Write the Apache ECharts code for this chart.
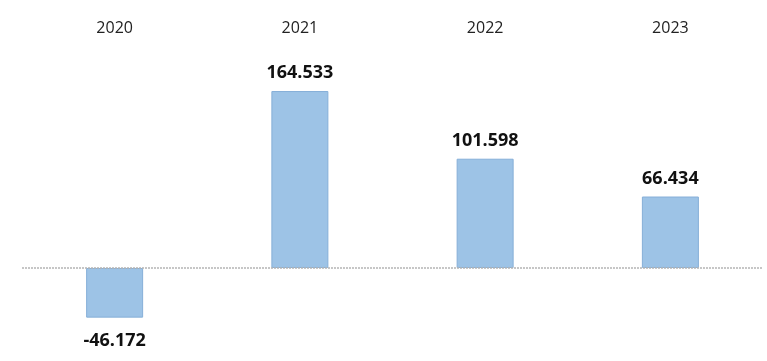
<!DOCTYPE html>
<html><head><meta charset="utf-8">
<script src="https://cdn.jsdelivr.net/npm/echarts@6/dist/echarts.min.js"></script>
<style>html,body{margin:0;padding:0;background:#fff}#c{width:767px;height:361px}</style>
</head><body><div id="c"></div>
<script>
const categories = ['2020', '2021', '2022', '2023'];
const values = [-46.172, 164.533, 101.598, 66.434];

const chart = echarts.init(document.getElementById('c'), null, {renderer: 'canvas'});
chart.setOption({
  animation: false,
  grid: {left: 22, right: 4, top: 74.4, bottom: 28.5, containLabel: false},
  xAxis: {
    type: 'category', data: categories, position: 'top',
    axisLine: {show: false, onZero: false}, axisTick: {show: false},
    axisLabel: {margin: 38, color: '#222', fontSize: 16, fontFamily: 'Open Sans'}
  },
  yAxis: {type: 'value', min: -60, max: 180, show: false, splitLine: {show: false}},
  series: [{
    type: 'bar', barWidth: 57,
    data: values.map(v => ({value: v, label: {position: v < 0 ? 'bottom' : 'top', distance: v < 0 ? 14 : 9}})),
    itemStyle: {color: '#9DC3E6', borderColor: '#86AFD8', borderWidth: 1},
    label: {show: true, fontSize: 18, fontWeight: 'bold', color: '#111', fontFamily: 'Open Sans',
      formatter: p => p.value.toFixed(3)},
    markLine: {
      silent: true, symbol: 'none', label: {show: false},
      lineStyle: {color: '#B4B4B4', type: [2, 1], width: 1.5},
      data: [{yAxis: 0}]
    },
    z: 2
  }]
});
</script></body></html>
